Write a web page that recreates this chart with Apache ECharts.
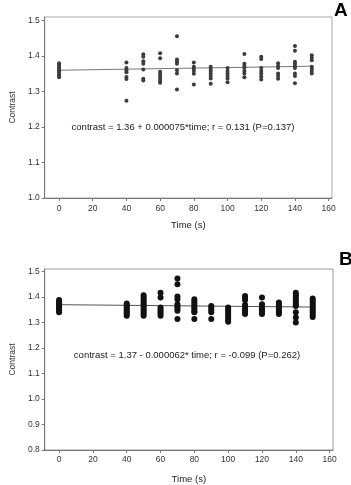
<!DOCTYPE html>
<html>
<head>
<meta charset="utf-8">
<script src="https://cdn.jsdelivr.net/npm/echarts@6/dist/echarts.min.js"></script>
<style>
  html, body { margin: 0; padding: 0; background: #fff; }
  #main { width: 351px; height: 485px; }
</style>
</head>
<body>
<div id="main"></div>
<script>
// sampling times (s)
var times = [0, 40, 50, 60, 70, 80, 90, 100, 110, 120, 130, 140, 150];
var xTicks = [0, 20, 40, 60, 80, 100, 120, 140, 160];
var yTicksA = [1.0, 1.1, 1.2, 1.3, 1.4, 1.5];
var yTicksB = [0.8, 0.9, 1.0, 1.1, 1.2, 1.3, 1.4, 1.5];

// panel A contrast values, one list per time
var contrastA = [
  [1.34, 1.345, 1.35, 1.355, 1.36, 1.365, 1.37, 1.375, 1.38],
  [1.382, 1.366, 1.36, 1.354, 1.341, 1.335, 1.274],
  [1.405, 1.398, 1.385, 1.378, 1.362, 1.336, 1.331],
  [1.408, 1.394, 1.356, 1.35, 1.343, 1.336, 1.33, 1.325],
  [1.456, 1.39, 1.384, 1.378, 1.36, 1.351, 1.306],
  [1.382, 1.37, 1.364, 1.358, 1.35, 1.32],
  [1.37, 1.364, 1.358, 1.351, 1.344, 1.337, 1.322],
  [1.366, 1.358, 1.351, 1.344, 1.337, 1.326],
  [1.406, 1.378, 1.372, 1.366, 1.358, 1.351, 1.34],
  [1.398, 1.392, 1.366, 1.358, 1.351, 1.342, 1.334],
  [1.38, 1.372, 1.366, 1.351, 1.344, 1.336],
  [1.428, 1.415, 1.384, 1.378, 1.372, 1.366, 1.351, 1.344, 1.323],
  [1.402, 1.395, 1.388, 1.37, 1.364, 1.358, 1.351]
];

// panel B contrast values
var contrastB = [
  [1.34, 1.346, 1.352, 1.358, 1.364, 1.37, 1.376, 1.382, 1.388],
  [1.327, 1.333, 1.339, 1.345, 1.351, 1.357, 1.363, 1.369, 1.375],
  [1.327, 1.335, 1.343, 1.351, 1.359, 1.367, 1.375, 1.383, 1.391, 1.399, 1.407],
  [1.417, 1.398, 1.359, 1.351, 1.343, 1.335, 1.327],
  [1.473, 1.45, 1.402, 1.391, 1.372, 1.363, 1.355, 1.346, 1.314],
  [1.391, 1.383, 1.375, 1.367, 1.359, 1.351, 1.343, 1.34, 1.314],
  [1.365, 1.357, 1.349, 1.34, 1.314],
  [1.359, 1.351, 1.343, 1.335, 1.327, 1.319, 1.311, 1.303],
  [1.404, 1.396, 1.388, 1.37, 1.362, 1.354, 1.346, 1.338, 1.333],
  [1.398, 1.372, 1.364, 1.356, 1.348, 1.34, 1.333],
  [1.379, 1.371, 1.363, 1.355, 1.347, 1.339, 1.333],
  [1.417, 1.409, 1.401, 1.393, 1.385, 1.377, 1.369, 1.365, 1.34, 1.32, 1.30],
  [1.394, 1.386, 1.378, 1.37, 1.362, 1.354, 1.346, 1.338, 1.33, 1.322]
];

// regression line end points
var fitA = [[0, 1.36], [150, 1.3713]];
var fitB = [[0, 1.37], [150, 1.3607]];

var eqA = 'contrast = 1.36 + 0.000075*time; r = 0.131 (P=0.137)';
var eqB = 'contrast = 1.37 - 0.000062* time; r = -0.099 (P=0.262)';

function pairs(groups) {
  var out = [];
  groups.forEach(function (g, i) {
    g.forEach(function (v) { out.push([times[i], v]); });
  });
  return out;
}

var font = 'Liberation Sans, Arial, sans-serif';

function xAxis(idx, labelMargin, nameGap) {
  return {
    type: 'value', gridIndex: idx, min: -8.5, max: 162,
    name: 'Time (s)', nameLocation: 'middle', nameGap: nameGap,
    nameTextStyle: { fontFamily: font, fontSize: 9.5, color: '#222' },
    splitLine: { show: false },
    axisLine: { onZero: false, lineStyle: { color: '#777', width: 1 } },
    axisTick: { show: true, length: 3, customValues: xTicks, lineStyle: { color: '#777' } },
    axisLabel: { customValues: xTicks, margin: labelMargin, fontFamily: font, fontSize: 8.5, color: '#333' }
  };
}

function yAxis(idx, min, ticks) {
  return {
    type: 'value', gridIndex: idx, min: min, max: 1.51,
    name: 'Contrast', nameLocation: 'middle', nameGap: 22,
    nameTextStyle: { fontFamily: font, fontSize: 8.5, color: '#333' },
    splitLine: { show: false },
    axisLine: { show: true, onZero: false, lineStyle: { color: '#777', width: 1 } },
    axisTick: { show: true, length: 3, customValues: ticks, lineStyle: { color: '#777' } },
    axisLabel: {
      customValues: ticks, margin: 5, fontFamily: font, fontSize: 8.5, color: '#333',
      formatter: function (v) { return v.toFixed(1); }
    }
  };
}

var chart = echarts.init(document.getElementById('main'));
chart.setOption({
  animation: false,
  grid: [
    { left: 30, top: 17, width: 302, height: 181, show: true, borderColor: '#aaa', borderWidth: 1, backgroundColor: '#fff' },
    { left: 30, top: 269, width: 303, height: 183, show: true, borderColor: '#999', borderWidth: 1, backgroundColor: '#fff' }
  ],
  xAxis: [xAxis(0, 6, 22), xAxis(1, 5, 24)],
  yAxis: [yAxis(0, 1.0, yTicksA), yAxis(1, 0.8, yTicksB)],
  graphic: [
    { type: 'text', left: 334, top: 1, style: { text: 'A', font: 'bold 19px ' + font, fill: '#000' } },
    { type: 'text', left: 339, top: 250, style: { text: 'B', font: 'bold 19px ' + font, fill: '#000' } },
    { type: 'text', x: 183, y: 127, style: { text: eqA, font: '9.5px ' + font, fill: '#222', align: 'center', verticalAlign: 'middle' } },
    { type: 'text', x: 187, y: 355, style: { text: eqB, font: '9.5px ' + font, fill: '#222', align: 'center', verticalAlign: 'middle' } }
  ],
  series: [
    { type: 'line', xAxisIndex: 0, yAxisIndex: 0, data: fitA, symbol: 'none',
      lineStyle: { color: '#777', width: 1 }, z: 1 },
    { type: 'scatter', xAxisIndex: 0, yAxisIndex: 0, data: pairs(contrastA),
      symbolSize: 4, itemStyle: { color: '#3c3c3c', opacity: 1 }, z: 2 },
    { type: 'line', xAxisIndex: 1, yAxisIndex: 1, data: fitB, symbol: 'none',
      lineStyle: { color: '#555', width: 1 }, z: 1 },
    { type: 'scatter', xAxisIndex: 1, yAxisIndex: 1, data: pairs(contrastB),
      symbolSize: 6, itemStyle: { color: '#111', opacity: 1 }, z: 2 }
  ]
});
</script>
</body>
</html>
